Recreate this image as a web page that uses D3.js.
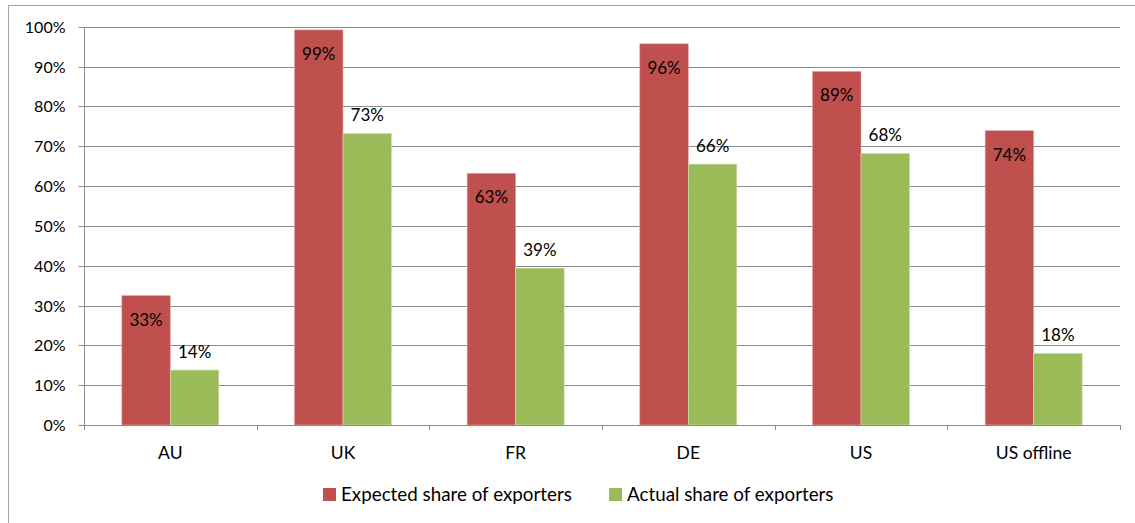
<!DOCTYPE html>
<html>
<head>
<meta charset="utf-8">
<script src="https://cdn.jsdelivr.net/npm/d3@7"></script>
<style>
  html, body { margin: 0; padding: 0; background: #fff; }
  svg { display: block; font-family: Lato, "Open Sans", sans-serif; }
</style>
</head>
<body>
<svg id="chart" width="1135" height="523"></svg>
<script>
// Export shares by market
const categories = ["AU", "UK", "FR", "DE", "US", "US offline"];
const seriesNames = ["Expected share of exporters", "Actual share of exporters"];
const expected = [0.325, 0.992, 0.632, 0.957, 0.888, 0.739];
const actual   = [0.138, 0.732, 0.394, 0.655, 0.682, 0.180];
const yTicks = [0, 0.1, 0.2, 0.3, 0.4, 0.5, 0.6, 0.7, 0.8, 0.9, 1.0];
const colors = ["#C0504D", "#9BBB59"];

const svg = d3.select("#chart");
const W = 1135, H = 523;
const margin = { left: 84, right: 15, top: 26.7, bottom: 98 };
const plotRight = W - margin.right;
const plotBottom = H - margin.bottom;

// chart frame
svg.append("rect")
  .attr("x", 8.5).attr("y", 5.5)
  .attr("width", W + 10).attr("height", H + 10)
  .attr("fill", "none").attr("stroke", "#a6a6a6").attr("stroke-width", 1);

const x0 = d3.scaleBand()
  .domain(categories)
  .range([margin.left, plotRight])
  .paddingInner(0.438)
  .paddingOuter(0.219);

const x1 = d3.scaleBand()
  .domain([0, 1])
  .range([0, x0.bandwidth()]);

const y = d3.scaleLinear()
  .domain([0, 1])
  .range([plotBottom, margin.top]);

// gridlines
svg.append("g")
  .selectAll("line")
  .data(yTicks.slice(1))
  .join("line")
  .attr("x1", margin.left).attr("x2", plotRight)
  .attr("y1", d => Math.round(y(d)) + 0.5).attr("y2", d => Math.round(y(d)) + 0.5)
  .attr("stroke", "#8c8c8c").attr("stroke-width", 1);

// y axis
const yAxis = d3.axisLeft(y)
  .tickValues(yTicks)
  .tickFormat(d3.format(".0%"))
  .tickSize(6)
  .tickPadding(13);
const gy = svg.append("g")
  .attr("transform", `translate(${margin.left + 0.5},0)`)
  .call(yAxis);
gy.select(".domain").attr("stroke", "#8c8c8c").attr("d", `M0,${margin.top}V${plotBottom}`);
gy.selectAll(".tick line").attr("stroke", "#8c8c8c");
gy.selectAll(".tick").attr("transform", d => `translate(0,${Math.round(y(d)) + 0.5})`);
gy.selectAll("text").attr("font-size", 16).attr("fill", "#000").attr("font-family", "Lato, sans-serif");

// data rows
const rows = categories.map((c, i) => ({ cat: c, values: [expected[i], actual[i]] }));

const groups = svg.append("g")
  .selectAll("g")
  .data(rows)
  .join("g")
  .attr("transform", d => `translate(${x0(d.cat)},0)`);

groups.selectAll("rect")
  .data(d => d.values.map((v, k) => ({ v, k })))
  .join("rect")
  .attr("x", d => x1(d.k))
  .attr("y", d => y(d.v))
  .attr("width", x1.bandwidth())
  .attr("height", d => plotBottom - y(d.v))
  .attr("fill", d => colors[d.k])
  .attr("stroke", d => d.k === 0 ? "#e8a9a7" : "#d3e3b5")
  .attr("stroke-width", 0.6);

// value labels: expected inside top of bar, actual above bar
const fmt = d3.format(".0%");
groups.selectAll("text.val")
  .data(d => d.values.map((v, k) => ({ v, k })))
  .join("text")
  .attr("class", "val")
  .attr("x", d => x1(d.k) + x1.bandwidth() / 2)
  .attr("y", d => d.k === 0 ? y(d.v) + 30 : y(d.v) - 12)
  .attr("text-anchor", "middle")
  .attr("font-size", 17)
  .attr("fill", "#000")
  .text(d => fmt(d.v));

// x axis
const xAxisLine = svg.append("g");
xAxisLine.append("line")
  .attr("x1", margin.left).attr("x2", plotRight)
  .attr("y1", plotBottom + 0.5).attr("y2", plotBottom + 0.5)
  .attr("stroke", "#8c8c8c");
const step = x0.step();
const bounds = d3.range(categories.length + 1).map(i => margin.left + i * step);
xAxisLine.selectAll("line.tk")
  .data(bounds)
  .join("line")
  .attr("class", "tk")
  .attr("x1", d => Math.round(d) + 0.5).attr("x2", d => Math.round(d) + 0.5)
  .attr("y1", plotBottom).attr("y2", plotBottom + 5)
  .attr("stroke", "#8c8c8c");

svg.append("g")
  .selectAll("text")
  .data(categories)
  .join("text")
  .attr("x", d => x0(d) + x0.bandwidth() / 2)
  .attr("y", plotBottom + 34)
  .attr("text-anchor", "middle")
  .attr("font-size", 17.5)
  .attr("fill", "#000")
  .text(d => d);

// legend
const legendX = [323, 609];
const legend = svg.append("g")
  .selectAll("g")
  .data(seriesNames)
  .join("g")
  .attr("transform", (d, i) => `translate(${legendX[i]},488)`);
legend.append("rect")
  .attr("width", 13).attr("height", 13)
  .attr("fill", (d, i) => colors[i]);
legend.append("text")
  .attr("x", 18).attr("y", 13)
  .attr("font-size", 18.8)
  .attr("fill", "#000")
  .text(d => d);
</script>
</body>
</html>
